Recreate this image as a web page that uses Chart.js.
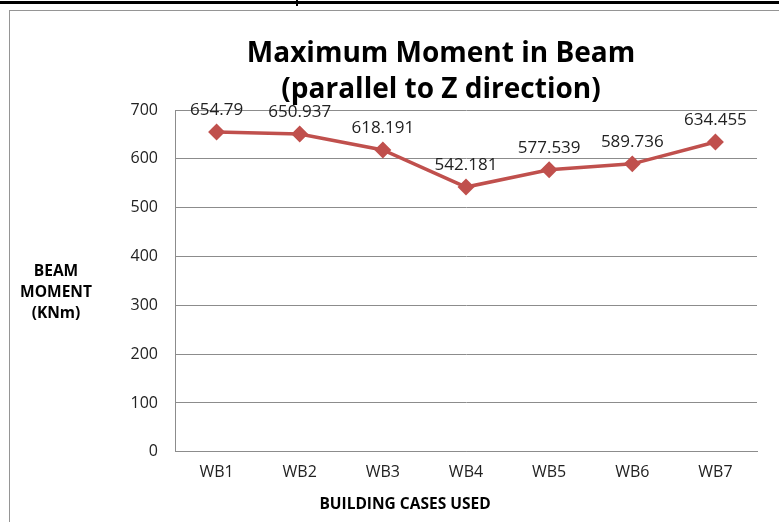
<!DOCTYPE html>
<html>
<head>
<meta charset="utf-8">
<script src="https://cdn.jsdelivr.net/npm/chart.js@4.4.1/dist/chart.umd.min.js"></script>
<style>
  html, body { margin: 0; padding: 0; background: #fff; }
  #page { position: relative; width: 779px; height: 522px; overflow: hidden; }
  .topline { position: absolute; left: 0; top: 1px; width: 779px; height: 3px; background: #000; }
  .notch { position: absolute; left: 296px; top: 0; width: 2px; height: 6px; background: #000; }
  .frame { position: absolute; left: 9px; top: 10px; width: 820px; height: 600px; border: 1px solid #959595; box-sizing: border-box; }
  #wrap { position: absolute; left: 0; top: 0; width: 779px; height: 522px; }
</style>
</head>
<body>
<div id="page">
  <div class="topline"></div>
  <div class="notch"></div>
  <div class="frame"></div>
  <div id="wrap"><canvas id="chart"></canvas></div>
</div>
<script>
// data
const cases = ['WB1', 'WB2', 'WB3', 'WB4', 'WB5', 'WB6', 'WB7'];
const beamMoment = [654.79, 650.937, 618.191, 542.181, 577.539, 589.736, 634.455];
const titleLines = ['Maximum Moment in Beam', '(parallel to Z direction)'];
const yTitleLines = ['BEAM', 'MOMENT', '(KNm)'];
const xTitle = 'BUILDING CASES USED';

const FONT = "'Open Sans', 'DejaVu Sans', sans-serif";
const RED = '#C0504D';

// value labels above each marker + the horizontal axis titles
const labelsPlugin = {
  id: 'labelsPlugin',
  afterDatasetsDraw(chart) {
    const ctx = chart.ctx;
    const meta = chart.getDatasetMeta(0);
    ctx.save();
    ctx.font = '17px ' + FONT;
    ctx.fillStyle = '#222';
    ctx.textAlign = 'center';
    ctx.textBaseline = 'alphabetic';
    meta.data.forEach((pt, i) => {
      ctx.fillText(String(beamMoment[i]), pt.x, pt.y - 17);
    });

    const area = chart.chartArea;
    ctx.font = 'bold 15.5px ' + FONT;
    ctx.fillStyle = '#000';
    ctx.textBaseline = 'middle';
    const mid = (area.top + area.bottom) / 2;
    yTitleLines.forEach((t, i) => {
      ctx.fillText(t, 56, mid - 9 + i * 21);
    });
    ctx.fillText(xTitle, area.left + 230, area.bottom + 53);
    ctx.restore();
  }
};

new Chart(document.getElementById('chart'), {
  type: 'line',
  data: {
    labels: cases,
    datasets: [{
      label: 'Beam moment',
      data: beamMoment,
      borderColor: RED,
      backgroundColor: RED,
      borderWidth: 3.5,
      pointStyle: 'rectRot',
      pointRadius: 6,
      pointHoverRadius: 6,
      pointBackgroundColor: RED,
      pointBorderColor: RED,
      tension: 0,
    }],
  },
  options: {
    responsive: true,
    maintainAspectRatio: false,
    animation: false,
    layout: { padding: { left: 125, right: 22, top: 36, bottom: 29 } },
    plugins: {
      legend: { display: false },
      tooltip: { enabled: false },
      title: {
        display: true,
        text: titleLines,
        color: '#000',
        font: { family: FONT, size: 28, weight: 'bold', lineHeight: 1.286 },
        padding: { top: 0, bottom: 2 },
      },
    },
    scales: {
      x: {
        offset: true,
        grid: { display: false, drawTicks: false },
        border: { display: true, color: '#8c8c8c', width: 1 },
        ticks: { color: '#222', font: { family: FONT, size: 16 }, padding: 11 },
      },
      y: {
        min: 0,
        max: 700,
        afterFit(scale) { scale.width = 50; },
        grid: { color: '#8c8c8c', drawTicks: false },
        border: { display: true, color: '#8c8c8c', width: 1 },
        ticks: { stepSize: 100, color: '#222', font: { family: FONT, size: 16 }, padding: 17 },
      },
    },
  },
  plugins: [labelsPlugin],
});
</script>
</body>
</html>
